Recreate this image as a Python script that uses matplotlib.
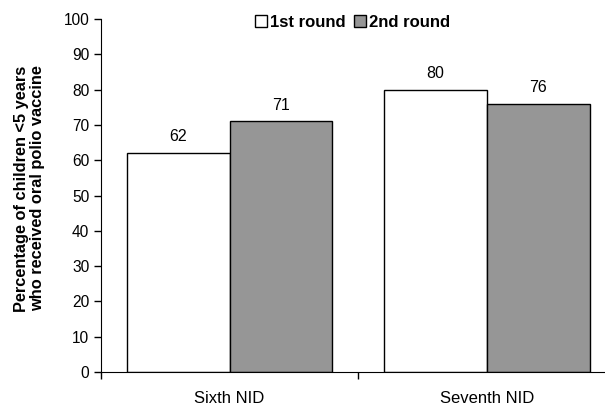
import numpy as np
import matplotlib.pyplot as plt

plt.rcParams['font.family'] = ['Liberation Sans', 'DejaVu Sans']

groups = ["Sixth NID", "Seventh NID"]
round1 = [62, 80]
round2 = [71, 76]
series_names = ["1st round", "2nd round"]

fig = plt.figure(figsize=(6.05, 4.05), dpi=100)
ax = fig.add_axes([0.167, 0.0815, 0.85, 0.8715])

x = np.arange(len(groups))
w = 0.4
b1 = ax.bar(x - w / 2, round1, w, color='white', edgecolor='black', linewidth=1, label=series_names[0])
b2 = ax.bar(x + w / 2, round2, w, color='#969696', edgecolor='black', linewidth=1, label=series_names[1])

for bars, vals in ((b1, round1), (b2, round2)):
    for r, v in zip(bars, vals):
        ax.text(r.get_x() + r.get_width() / 2, v + 2.5, str(v), ha='center', va='bottom', fontsize=11.5)

ax.set_xlim(-0.5, 1.5)
ax.set_ylim(0, 100)
ax.set_yticks(range(0, 101, 10))
ax.set_xticks([-0.5, 0.5, 1.5], minor=True)
ax.set_xticks(x)
ax.set_xticklabels(groups, fontsize=12)
ax.tick_params(axis='x', which='major', length=0, pad=14)
ax.tick_params(axis='x', which='minor', length=5, direction='out', width=1)
ax.tick_params(axis='y', length=5, direction='out', width=1, labelsize=11.2)
ax.spines['top'].set_visible(False)
ax.spines['right'].set_visible(False)
ax.set_ylabel("Percentage of children <5 years\nwho received oral polio vaccine",
              fontsize=11.8, fontweight='bold', linespacing=1.1)
ax.yaxis.set_label_coords(-0.108, 0.52)

leg = ax.legend(loc='upper center', bbox_to_anchor=(0.49, 1.055), ncol=2, frameon=False,
                prop={'weight': 'bold', 'size': 12}, handlelength=0.7, handleheight=0.7,
                handletextpad=0.2, columnspacing=0.5)

fig.savefig("out.png", dpi=100)
